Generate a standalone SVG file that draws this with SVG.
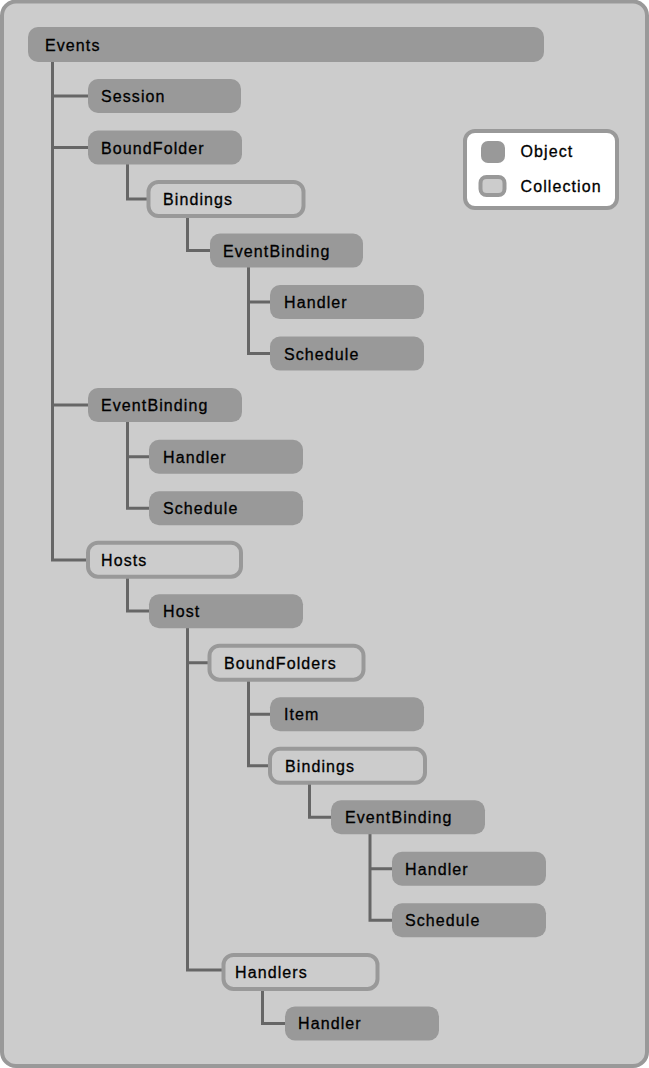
<svg xmlns="http://www.w3.org/2000/svg" width="649" height="1068" viewBox="0 0 649 1068">
<style>
.obj{fill:#999999}
.col{fill:#cccccc;stroke:#999999;stroke-width:4}
.t{font-family:"Liberation Sans",Arial,sans-serif;font-size:16px;fill:#000;stroke:#000;stroke-width:0.3px;letter-spacing:1.1px}
.c{stroke:#666666;stroke-width:3;fill:none}
</style>
<rect x="0" y="0" width="649" height="1068" fill="#ffffff"/>
<rect id="frame" x="2" y="1.5" width="645" height="1064.5" rx="14" fill="#cccccc" stroke="#999999" stroke-width="4"/>
<g id="connectors" class="c">
<path d="M52.5 61V560H88M52.5 96H88M52.5 147.5H88M52.5 405H88"/>
<path d="M127.5 164V199H148.5"/>
<path d="M187.5 215V250.5H210"/>
<path d="M248.5 267V353.6H270M248.5 302H270"/>
<path d="M127.5 422V508.2H149M127.5 456.7H149"/>
<path d="M127.5 577V611H149"/>
<path d="M187.5 628V970H223.5M187.5 662.7H209.5"/>
<path d="M248.5 680V765.8H270M248.5 714.3H270"/>
<path d="M309.5 783V817.3H331"/>
<path d="M370 834V920.3H392M370 868.8H392"/>
<path d="M262.5 990V1023.4H285"/>
</g>
<g id="n-events"><rect class="obj" x="28" y="27" width="516" height="35" rx="10"/><text class="t" x="45" y="50.5">Events</text></g>
<g id="n-session"><rect class="obj" x="88" y="79" width="153" height="34" rx="10"/><text class="t" x="101" y="102">Session</text></g>
<g id="n-boundfolder"><rect class="obj" x="88" y="130.5" width="154" height="34" rx="10"/><text class="t" x="101" y="153.5">BoundFolder</text></g>
<g id="n-bindings1"><rect class="col" x="148.5" y="182" width="155" height="34" rx="10"/><text class="t" x="163" y="205">Bindings</text></g>
<g id="n-eventbinding1"><rect class="obj" x="210" y="233.6" width="153" height="34" rx="10"/><text class="t" x="223" y="256.6">EventBinding</text></g>
<g id="n-handler1"><rect class="obj" x="270" y="285.1" width="154" height="34" rx="10"/><text class="t" x="284" y="308.1">Handler</text></g>
<g id="n-schedule1"><rect class="obj" x="270" y="336.6" width="154" height="34" rx="10"/><text class="t" x="284" y="359.6">Schedule</text></g>
<g id="n-eventbinding2"><rect class="obj" x="88" y="388.1" width="154" height="34" rx="10"/><text class="t" x="101" y="411.1">EventBinding</text></g>
<g id="n-handler2"><rect class="obj" x="149" y="439.7" width="154" height="34" rx="10"/><text class="t" x="163" y="462.7">Handler</text></g>
<g id="n-schedule2"><rect class="obj" x="149" y="491.2" width="154" height="34" rx="10"/><text class="t" x="163" y="514.2">Schedule</text></g>
<g id="n-hosts"><rect class="col" x="88" y="542.7" width="153" height="34" rx="10"/><text class="t" x="101" y="565.7">Hosts</text></g>
<g id="n-host"><rect class="obj" x="149" y="594.2" width="154" height="34" rx="10"/><text class="t" x="163" y="617.2">Host</text></g>
<g id="n-boundfolders"><rect class="col" x="209.5" y="645.7" width="154" height="34" rx="10"/><text class="t" x="224" y="668.7">BoundFolders</text></g>
<g id="n-item"><rect class="obj" x="270" y="697.3" width="154" height="34" rx="10"/><text class="t" x="284" y="720.3">Item</text></g>
<g id="n-bindings2"><rect class="col" x="270" y="748.8" width="155" height="34" rx="10"/><text class="t" x="285" y="771.8">Bindings</text></g>
<g id="n-eventbinding3"><rect class="obj" x="331" y="800.3" width="154" height="34" rx="10"/><text class="t" x="345" y="823.3">EventBinding</text></g>
<g id="n-handler3"><rect class="obj" x="392" y="851.8" width="154" height="34" rx="10"/><text class="t" x="405" y="874.8">Handler</text></g>
<g id="n-schedule3"><rect class="obj" x="392" y="903.3" width="154" height="34" rx="10"/><text class="t" x="405" y="926.3">Schedule</text></g>
<g id="n-handlers"><rect class="col" x="223.5" y="954.9" width="154" height="34" rx="10"/><text class="t" x="235" y="977.9">Handlers</text></g>
<g id="n-handler4"><rect class="obj" x="285" y="1006.4" width="154" height="34" rx="10"/><text class="t" x="298" y="1029.4">Handler</text></g>
<g id="legend">
<rect x="465" y="131" width="152" height="77" rx="10" fill="#ffffff" stroke="#999999" stroke-width="4"/>
<rect class="obj" x="481" y="141" width="24" height="22" rx="7"/>
<rect class="col" x="480.5" y="177" width="24" height="18" rx="6"/>
<text class="t" x="520.5" y="157">Object</text>
<text class="t" x="520.5" y="192">Collection</text>
</g>
</svg>
